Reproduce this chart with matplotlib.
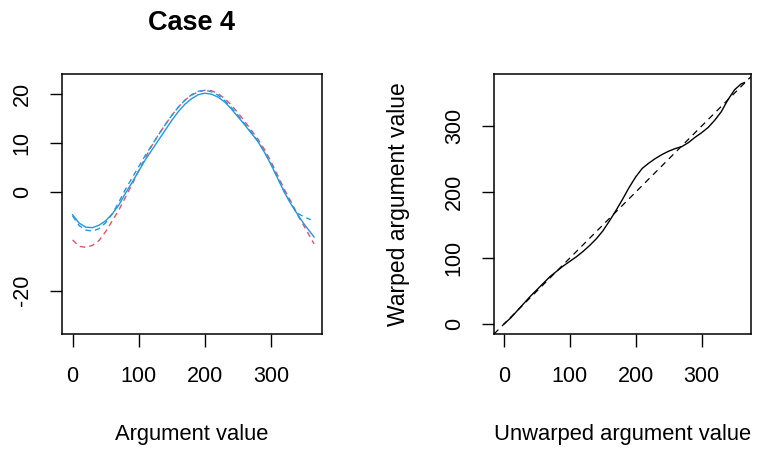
import matplotlib
matplotlib.use("Agg")
import matplotlib.pyplot as plt

plt.rcParams['font.family'] = ['Liberation Sans', 'DejaVu Sans']
plt.rcParams['axes.unicode_minus'] = False

# ---- left panel data ----
days_mean = [0, 10, 20, 30, 40, 50, 60, 70, 80, 90, 100, 110, 120, 130, 140, 150, 160, 170, 180,
             190, 200, 210, 220, 230, 240, 250, 260, 270, 280, 290, 300, 310, 320, 330, 340, 350, 365]
mean_solid = [-4.6, -6.3, -7.1, -7.2, -6.7, -5.8, -4.4, -2.6, -0.2, 2.0, 4.3, 6.6, 8.6, 10.6, 12.6,
              14.6, 16.4, 17.9, 19.0, 19.8, 20.1, 19.9, 19.3, 18.3, 16.9, 15.3, 13.7, 12.0, 10.3,
              8.1, 5.6, 2.8, 0.0, -2.4, -4.5, -6.5, -9.1]

days_reg = [0, 10, 20, 30, 40, 50, 60, 70, 80, 90, 100, 110, 120, 130, 140, 150, 160, 170, 180,
            190, 200, 210, 220, 230, 240, 250, 260, 270, 280, 290, 300, 310, 320, 330, 340, 350, 360]
reg_blue = [-4.8, -6.8, -7.7, -7.9, -7.4, -6.2, -4.4, -2.0, 0.6, 2.9, 5.2, 7.5, 9.6, 11.7, 13.7,
            15.6, 17.3, 18.7, 19.8, 20.5, 20.7, 20.4, 19.7, 18.6, 17.2, 15.6, 13.9, 12.2, 10.4,
            8.2, 5.7, 2.9, 0.1, -2.3, -4.3, -5.0, -5.6]

days_orig = [0, 10, 20, 30, 40, 50, 60, 70, 80, 90, 100, 110, 120, 130, 140, 150, 160, 170, 180,
             190, 200, 210, 220, 230, 240, 250, 260, 270, 280, 290, 300, 310, 320, 330, 340, 350, 365]
orig_red = [-9.7, -11.0, -11.2, -10.8, -9.8, -8.0, -5.8, -3.6, -1.0, 1.6, 4.4, 7.0, 9.5, 11.7,
            13.7, 15.6, 17.3, 18.7, 19.7, 20.4, 20.7, 20.6, 20.0, 19.0, 17.7, 16.1, 14.4, 12.6,
            10.8, 8.7, 6.2, 3.4, 0.6, -1.9, -4.6, -6.9, -10.5]

# ---- right panel data ----
unwarped = [0, 10, 20, 30, 40, 50, 60, 70, 80, 90, 100, 110, 120, 130, 140, 150, 160, 170, 180,
            190, 200, 210, 220, 230, 240, 250, 260, 270, 280, 290, 300, 310, 320, 330, 340, 350,
            360, 365]
warped = [0, 9, 20, 31, 42, 52, 62, 72, 80, 88, 95, 102, 110, 119, 129, 141, 156, 172, 189, 207,
          223, 236, 244, 251, 257, 262, 266, 269, 275, 283, 290, 298, 309, 322, 340, 355, 364, 366]

left_xticks = [0, 100, 200, 300]
left_yticks = [-20, 0, 10, 20]
right_xticks = [0, 100, 200, 300]
right_yticks = [0, 100, 200, 300]

BLUE = "#2297E6"
RED = "#DF536B"

W, H = 758, 451
fig = plt.figure(figsize=(W / 100, H / 100), dpi=100)
ax1 = fig.add_axes([62 / W, (H - 334) / H, 260 / W, 260 / H])
ax2 = fig.add_axes([494 / W, (H - 334) / H, 257 / W, 260 / H])

ax1.plot(days_orig, orig_red, color=RED, lw=1.0, ls=(0, (4, 3)))
ax1.plot(days_reg, reg_blue, color=BLUE, lw=1.0, ls=(0, (4, 3)))
ax1.plot(days_mean, mean_solid, color=BLUE, lw=1.0)
ax1.set_xlim(-16, 377)
ax1.set_ylim(-28.8, 24.0)
ax1.set_xticks(left_xticks)
ax1.set_yticks(left_yticks)
ax1.set_xlabel("Argument value", fontsize=15.8, labelpad=27)
ax1.set_title("Case 4", fontsize=19.5, fontweight="bold", pad=32)

ax2.axline((0, 0), slope=1, color="black", lw=0.9, ls=(0, (5, 4)))
ax2.plot(unwarped, warped, color="black", lw=1.0)
ax2.set_xlim(-15, 375)
ax2.set_ylim(-15, 379)
ax2.set_xticks(right_xticks)
ax2.set_yticks(right_yticks)
ax2.set_xlabel("Unwarped argument value", fontsize=15.8, labelpad=27)
ax2.set_ylabel("Warped argument value", fontsize=16.5, labelpad=24)

for ax in (ax1, ax2):
    for s in ax.spines.values():
        s.set_linewidth(1.1)
        s.set_color("black")
    ax.tick_params(axis="both", length=9, width=1.0, labelsize=15.5, colors="black")
    ax.tick_params(axis="x", pad=14)
    ax.tick_params(axis="y", pad=12)
    for lab in ax.get_yticklabels():
        lab.set_rotation(90)
        lab.set_va("center")

fig.savefig("out.png", dpi=100)
